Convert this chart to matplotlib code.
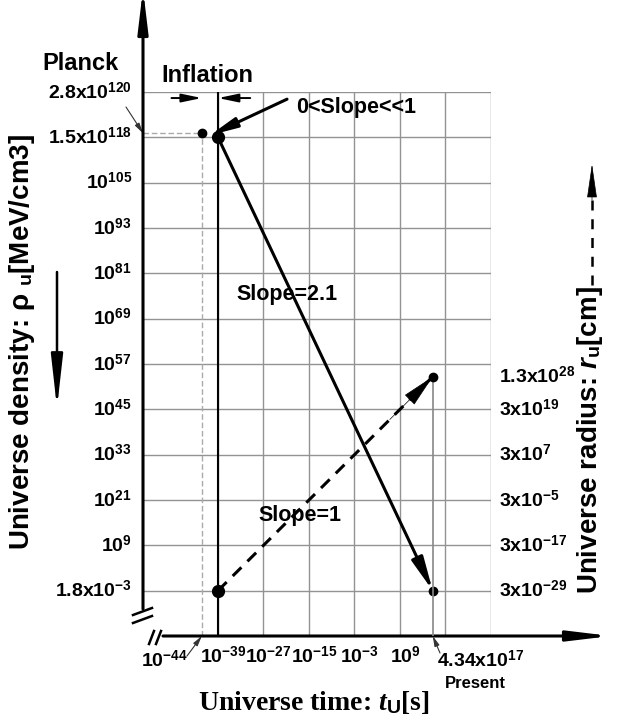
import numpy as np
import matplotlib
matplotlib.use('Agg')
import matplotlib.pyplot as plt
from matplotlib.ticker import NullLocator
from matplotlib.transforms import ScaledTranslation

plt.rcParams['font.family'] = ['Liberation Sans', 'DejaVu Sans']
plt.rcParams['font.weight'] = 'bold'
plt.rcParams['mathtext.fontset'] = 'custom'
plt.rcParams['mathtext.rm'] = 'Liberation Sans:bold'
plt.rcParams['mathtext.bf'] = 'Liberation Sans:bold'
plt.rcParams['mathtext.sf'] = 'Liberation Sans:italic:bold'
plt.rcParams['mathtext.it'] = 'Liberation Serif:italic:bold'

# time axis [s] (log scale)
time_ticks = [1e-39, 1e-27, 1e-15, 1e-3, 1e9, 1e21, 1e33]
time_labels = ['$10^{-39}$', '$10^{-27}$', '$10^{-15}$', '$10^{-3}$', '$10^{9}$', '', '']

# density axis: rows in log10 units as drawn (top two rows not to scale)
density_rows = [129, 117, 105, 93, 81, 69, 57, 45, 33, 21, 9, -3]
density_labels = ['2.8x$10^{120}$', '1.5x$10^{118}$', '$10^{105}$', '$10^{93}$',
                  '$10^{81}$', '$10^{69}$', '$10^{57}$', '$10^{45}$', '$10^{33}$',
                  '$10^{21}$', '$10^{9}$', '1.8x$10^{-3}$']

# radius axis [cm] (log scale)
radius_ticks = [3e-29, 3e-17, 3e-5, 3e7, 3e19, 1.3e28]
radius_labels = ['3x$10^{-29}$', '3x$10^{-17}$', '3x$10^{-5}$', '3x$10^{7}$',
                 '3x$10^{19}$', '1.3x$10^{28}$']

# key points
t_planck = 5.4e-44
t_end = 1e-39
t_present = 4.34e17
rho_planck = 118.1
rho_end = 117
rho_present = -3
r_end = 3e-29
r_present = 1.3e28

fig = plt.figure(figsize=(6.28, 7.22), dpi=100)
ax = fig.add_axes([143/628, (722-636)/722, 348/628, 544/722])

def afx(px):
    return (px - 143) / 348

def afy(py):
    return (636 - py) / 544

ylim = (-15, 129)
ax.set_xscale('log')
ax.set_xlim(t_end / 10**19.78, 1e33)
ax.set_ylim(*ylim)
ax.set_xticks(time_ticks, time_labels)
ax.xaxis.set_minor_locator(NullLocator())
ax.set_yticks(density_rows, density_labels)
ax.tick_params(axis='both', length=0, labelsize=14)
ax.tick_params(axis='x', pad=7)
ax.tick_params(axis='y', pad=8)
for lab in ax.get_yticklabels():
    lab.set_va('center')
shift = ScaledTranslation(0.05, 0, fig.dpi_scale_trans)
for lab in ax.get_xticklabels():
    lab.set_transform(lab.get_transform() + shift)
ax.grid(True, color='#939393', lw=1)
ax.set_axisbelow(True)
for s in ax.spines.values():
    s.set_visible(False)

# radius axis on the right, same rows
offset = rho_present - np.log10(r_end)
ax2 = ax.twinx()
ax2.set_yscale('log')
ax2.set_ylim(10**(ylim[0] - offset), 10**(ylim[1] - offset))
ax2.set_yticks(radius_ticks, radius_labels)
ax2.yaxis.set_minor_locator(NullLocator())
ax2.tick_params(axis='y', length=0, labelsize=14, pad=6)
for lab in ax2.get_yticklabels():
    lab.set_va('center')
for s in ax2.spines.values():
    s.set_visible(False)

# reference lines
ax.axvline(t_end, color='black', lw=1.5, zorder=3)
ax.plot([ax.get_xlim()[0], t_planck], [rho_planck, rho_planck], color='#aaaaaa',
        lw=1, ls=(0, (4, 2)), clip_on=False)
ax.plot([t_planck, t_planck], [ylim[0], rho_planck], color='#aaaaaa', lw=1, ls=(0, (4, 2)))
ax2.plot([t_present, t_present], [ax2.get_ylim()[0], r_present], color='#888888', lw=1.2)

head = dict(arrowstyle='-|>,head_length=2.0,head_width=0.36', mutation_scale=10,
            color='black', lw=2.2, shrinkA=0, shrinkB=0)

# density: slope 2.1
ax.annotate('', xy=(t_present, rho_present), xytext=(t_end, rho_end), arrowprops=head)

# radius: slope 1, dashed line with a solid head near the end
ax2.plot([t_end, t_present], [r_end, r_present], color='black', lw=2.2, ls=(0, (4, 2.8)))
f = 0.8
ax2.annotate('', xy=(t_present, r_present),
             xytext=(t_end * (t_present / t_end)**f, r_end * (r_present / r_end)**f),
             arrowprops=dict(head, arrowstyle='-|>,head_length=2.2,head_width=0.45', lw=0.5))

ax.plot([t_planck], [rho_planck], 'o', color='black', ms=6, zorder=5)
ax.plot([t_end], [rho_end], 'o', color='black', ms=8.5, zorder=5)
ax.plot([t_present], [rho_present], 'o', color='black', ms=6, zorder=5)
ax2.plot([t_end], [r_end], 'o', color='black', ms=8.5, zorder=5)
ax2.plot([t_present], [r_present], 'o', color='black', ms=6, zorder=5)

# inflation markers
small_head = dict(arrowstyle='-|>,head_length=1.2,head_width=0.25', mutation_scale=10,
                  color='black', lw=1.4, shrinkA=0, shrinkB=0)
ax.annotate('', xy=(t_planck, 127.4), xytext=(t_planck / 1e8, 127.4), arrowprops=small_head)
ax.annotate('', xy=(t_end, 127.4), xytext=(t_end * 10**8.5, 127.4), arrowprops=small_head)
ax.text(afx(207), afy(76), 'Inflation', transform=ax.transAxes, fontsize=17,
        ha='center', va='center')
ax.text(afx(81), afy(64), 'Planck', transform=ax.transAxes, fontsize=17,
        ha='center', va='center')

ax.annotate('', xy=(np.sqrt(t_planck * t_end), (rho_planck + rho_end) / 2),
            xytext=(10**-20.8, 127.1),
            arrowprops=dict(arrowstyle='-|>,head_length=1.6,head_width=0.3', mutation_scale=10,
                            color='black', lw=2.2, shrinkA=0, shrinkB=0))
ax.text(10**-2.6, 125.0, '0<Slope<<1', fontsize=15.5, ha='center', va='center')
ax.text(10**-20.8, 75.3, 'Slope=2.1', fontsize=15.5, ha='center', va='center')
ax.text(10**-17.4, 16.8, 'Slope=1', fontsize=15.5, ha='center', va='center')

# thin pointers to special values
thin = dict(arrowstyle='-|>,head_length=0.6,head_width=0.15', mutation_scale=10,
            color='#333333', lw=0.8, shrinkA=0, shrinkB=0)
ax.annotate('', xy=(0, rho_planck), xycoords=('axes fraction', 'data'),
            xytext=(afx(126), afy(107)), textcoords='axes fraction',
            arrowprops=thin, annotation_clip=False)
ax.annotate('', xy=(t_planck, 0), xycoords=('data', 'axes fraction'),
            xytext=(afx(187), afy(656)), textcoords='axes fraction',
            arrowprops=thin, annotation_clip=False)
ax.annotate('', xy=(t_present, 0), xycoords=('data', 'axes fraction'),
            xytext=(afx(440), afy(653)), textcoords='axes fraction',
            arrowprops=thin, annotation_clip=False)
ax.text(afx(164), afy(660), '$10^{-44}$', transform=ax.transAxes, fontsize=14,
        ha='center', va='center')
ax.text(afx(481), afy(660), '4.34x$10^{17}$', transform=ax.transAxes, fontsize=14,
        ha='center', va='center')
ax.text(afx(475), afy(684), 'Present', transform=ax.transAxes, fontsize=12,
        ha='center', va='center')

# axes with arrows and breaks
axis_arrow = dict(arrowstyle='-|>,head_length=2.5,head_width=0.3', mutation_scale=10,
                  color='black', lw=2.2, shrinkA=0, shrinkB=0)
ax.annotate('', xy=(0, afy(-11)), xytext=(0, afy(609)), xycoords='axes fraction',
            arrowprops=axis_arrow, annotation_clip=False)
ax.annotate('', xy=(afx(611), 0), xytext=(afx(163), 0), xycoords='axes fraction',
            arrowprops=axis_arrow, annotation_clip=False)
for y0 in [615, 623]:
    ax.plot([afx(133), afx(152)], [afy(y0), afy(y0 - 7)], transform=ax.transAxes,
            clip_on=False, color='black', lw=1.8)
for x0 in [149, 156]:
    ax.plot([afx(x0), afx(x0 + 5)], [afy(644), afy(631)], transform=ax.transAxes,
            clip_on=False, color='black', lw=1.8)

# axis titles
fig.text(22/628, 1 - 342/722, 'Universe density: ρ $_{\\mathrm{u}}$[MeV/cm3]', rotation=90,
         fontsize=20, ha='center', va='center')
fig.text(590/628, 1 - 440/722, 'Universe radius: $\\mathsf{r}_{\\mathrm{u}}$[cm]', rotation=90,
         fontsize=20, ha='center', va='center')
fig.text(314/628, 1 - 702/722, 'Universe time: $t_{\\mathrm{U}}$[s]', family='Liberation Serif',
         fontsize=20, ha='center', va='center')

ax.annotate('', xy=(57/628, 1 - 408/722), xytext=(57/628, 1 - 272/722),
            xycoords='figure fraction', textcoords='figure fraction', annotation_clip=False,
            arrowprops=dict(arrowstyle='-|>,head_length=3.2,head_width=0.36', mutation_scale=10,
                            color='black', lw=1.8, shrinkA=0, shrinkB=0))
fig.add_artist(plt.Line2D([592/628, 592/628], [1 - 285/722, 1 - 195/722], color='black',
                          lw=1.8, ls=(0, (4, 3.5))))
ax.annotate('', xy=(592/628, 1 - 164/722), xytext=(592/628, 1 - 200/722),
            xycoords='figure fraction', textcoords='figure fraction', annotation_clip=False,
            arrowprops=dict(arrowstyle='-|>,head_length=2.2,head_width=0.32', mutation_scale=10,
                            color='black', lw=0.5, shrinkA=0, shrinkB=0))

fig.savefig('out.png', dpi=100)
